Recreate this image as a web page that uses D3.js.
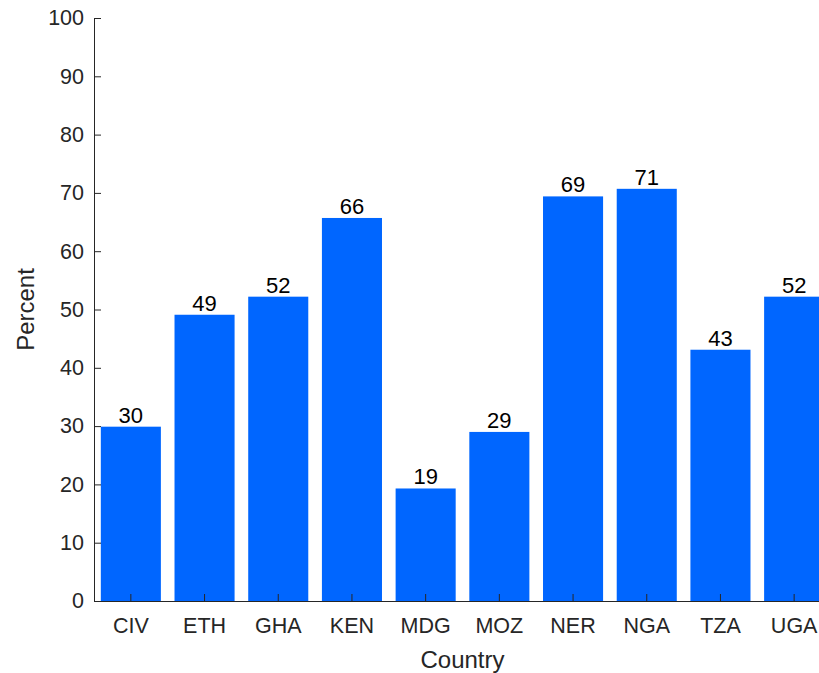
<!DOCTYPE html>
<html><head><meta charset="utf-8">
<script src="https://d3js.org/d3.v7.min.js"></script>
<style>body{margin:0;background:#fff;overflow:hidden}svg{display:block}</style>
</head><body>
<script>
const categories = ["CIV","ETH","GHA","KEN","MDG","MOZ","NER","NGA","TZA","UGA"];
const values = [29.9, 49.1, 52.2, 65.7, 19.3, 29.0, 69.4, 70.7, 43.1, 52.2];
const labels = ["30","49","52","66","19","29","69","71","43","52"];
const yTicks = [0,10,20,30,40,50,60,70,80,90,100];

const W = 819, H = 673;
const FONT = "'Liberation Sans', Arial, sans-serif";
const svg = d3.select("body").append("svg").attr("width", W).attr("height", H)
  .style("font-family", FONT);

const x0 = 94, x1 = 831, y0 = 601, y1 = 18;
const x = d3.scaleBand().domain(categories).range([x0, x1]).paddingInner(0.185).paddingOuter(0.0925);
const y = d3.scaleLinear().domain([0, 100]).range([y0, y1]);

svg.append("g").selectAll("rect").data(categories).join("rect")
  .attr("x", d => x(d)).attr("width", x.bandwidth())
  .attr("y", (d,i) => y(values[i])).attr("height", (d,i) => y(0) - y(values[i]))
  .attr("fill", "#0066ff");

svg.append("g").selectAll("text").data(categories).join("text")
  .attr("x", d => x(d) + x.bandwidth()/2)
  .attr("y", (d,i) => y(values[i]) - 4)
  .attr("text-anchor", "middle").attr("font-size", 22).attr("fill", "#000")
  .text((d,i) => labels[i]);

const ya = svg.append("g").attr("transform", `translate(${x0},0)`)
  .call(d3.axisLeft(y).tickValues(yTicks).tickSizeInner(-7).tickSizeOuter(0).tickPadding(10));
const xa = svg.append("g").attr("transform", `translate(0,${y0})`)
  .call(d3.axisBottom(x).tickSizeInner(-7).tickSizeOuter(0).tickPadding(17));
[ya, xa].forEach(g => {
  g.selectAll("path,line").attr("stroke", "#262626").attr("stroke-width", 1);
  g.selectAll("text").attr("font-size", 21.5).attr("fill", "#262626").attr("font-family", FONT);
});

svg.append("text").attr("x", (x0 + x1)/2).attr("y", 668).attr("text-anchor", "middle")
  .attr("font-size", 24).attr("fill", "#262626").text("Country");
svg.append("text").attr("transform", `translate(34,${(y0+y1)/2}) rotate(-90)`).attr("text-anchor", "middle")
  .attr("font-size", 24).attr("fill", "#262626").text("Percent");
</script>
</body></html>
